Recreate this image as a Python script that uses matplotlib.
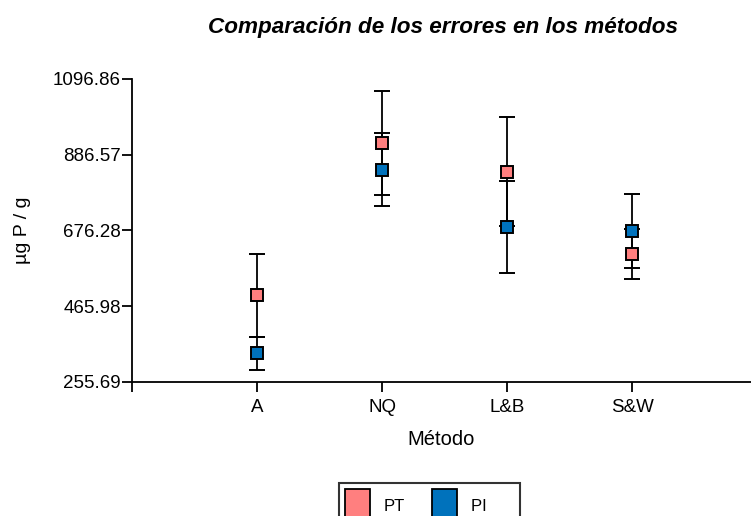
import matplotlib.pyplot as plt
from matplotlib.patches import Patch

plt.rcParams['font.family'] = ['Liberation Sans', 'DejaVu Sans']

metodos = ['A', 'NQ', 'L&B', 'S&W']
pt_mean = [496, 920, 840, 611]
pt_err = [115, 144, 150, 70]
pi_mean = [335, 845, 687, 675]
pi_err = [47, 102, 128, 103]
y_ticks = [255.69, 465.98, 676.28, 886.57, 1096.86]

pt_color = '#FF7F7F'
pi_color = '#0072BC'

fig = plt.figure(figsize=(7.51, 5.16), dpi=100)
ax = fig.add_axes([132 / 751, 1 - 382 / 516, 1 - 132 / 751, (382 - 79) / 516])

x = list(range(1, len(metodos) + 1))
for means, errs in [(pt_mean, pt_err), (pi_mean, pi_err)]:
    ax.errorbar(x, means, yerr=errs, fmt='none', ecolor='black', elinewidth=1.3,
                capsize=6, capthick=1.4, zorder=2)
for means, color in [(pt_mean, pt_color), (pi_mean, pi_color)]:
    ax.plot(x, means, 's', markersize=9, markerfacecolor=color,
            markeredgecolor='black', markeredgewidth=1.4, linestyle='none', zorder=3)

ax.set_xlim(0, 4.95)
ax.set_ylim(y_ticks[0], y_ticks[-1])
ax.set_yticks(y_ticks)
ax.set_yticklabels(['%.2f' % t for t in y_ticks])
ax.set_xticks([0] + x)
ax.set_xticklabels([''] + metodos)

for side in ['top', 'right']:
    ax.spines[side].set_visible(False)
for side in ['left', 'bottom']:
    ax.spines[side].set_linewidth(1.3)
ax.tick_params(axis='both', direction='out', length=7, width=1.3, labelsize=13.5)
ax.tick_params(axis='x', pad=5)
ax.tick_params(axis='y', pad=1)

ax.set_xlabel('Método', fontsize=14.5, labelpad=10)
ax.set_ylabel('µg P / g', fontsize=14, labelpad=16)
fig.text(0.59, 0.937, 'Comparación de los errores en los métodos', ha='center',
         fontsize=16.2, fontweight='bold', fontstyle='italic')

handles = [Patch(facecolor=pt_color, edgecolor='black', linewidth=1.3),
           Patch(facecolor=pi_color, edgecolor='black', linewidth=1.3)]
leg = fig.legend(handles, ['PT', 'PI      '], loc='upper left',
                 bbox_to_anchor=(339 / 751, 1 - 483 / 516),
                 ncol=2, fontsize=12, frameon=True, fancybox=False, handlelength=1.5,
                 handleheight=2.8, handletextpad=0.85, columnspacing=1.6, borderpad=0.35,
                 borderaxespad=0)
leg.get_frame().set_edgecolor('black')
leg.get_frame().set_linewidth(1.5)

fig.savefig('out.png', dpi=100)
